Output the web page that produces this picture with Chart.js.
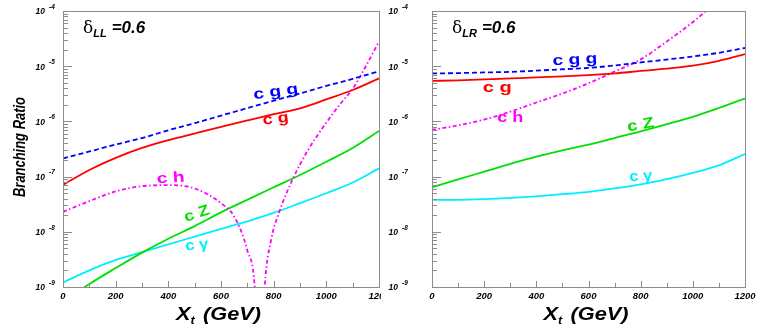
<!DOCTYPE html>
<html>
<head>
<meta charset="utf-8">
<script src="https://cdn.jsdelivr.net/npm/chart.js@4.4.1/dist/chart.umd.min.js"></script>
<style>
  body { margin: 0; background: #fff; }
  #wrap { position: relative; width: 763px; height: 327px; background: #fff; }
  .panel { position: absolute; top: 0; height: 327px; }
</style>
</head>
<body>
<div id="wrap">
  <div class="panel" style="left:0;width:381px"><canvas id="chartLL" width="381" height="327"></canvas></div>
  <div class="panel" style="left:381px;width:382px"><canvas id="chartLR" width="382" height="327"></canvas></div>
</div>
<script>
// X_t grid (GeV) shared by most curves
const xGrid = [0, 100, 200, 300, 400, 500, 600, 700, 800, 900, 1000, 1100, 1200];
const xTicks = [0, 200, 400, 600, 800, 1000, 1200];
const yDecades = [-9, -8, -7, -6, -5, -4];

// delta_LL = 0.6 panel
const llCgg = [2.14e-7, 2.85e-7, 3.8e-7, 5.0e-7, 6.9e-7, 9.3e-7, 1.27e-6, 1.74e-6, 2.37e-6, 3.2e-6, 4.4e-6, 5.9e-6, 8.1e-6];
const llCg = [7.1e-8, 1.32e-7, 2.19e-7, 3.31e-7, 4.57e-7, 6.03e-7, 7.94e-7, 1.04e-6, 1.35e-6, 1.72e-6, 2.5e-6, 3.7e-6, 6.0e-6];
const llChX = [0, 100, 200, 300, 400, 500, 600, 650, 700, 728, 747, 766, 790, 820, 870, 930, 1000, 1050, 1100, 1150, 1200];
const llCh = [2.3e-8, 3.6e-8, 5.4e-8, 6.7e-8, 7.0e-8, 6.1e-8, 3.3e-8, 1.9e-8, 4.6e-9, 1.0e-9, 1e-11, 1.0e-9, 7e-9, 2.2e-8, 8.5e-8, 3.0e-7, 9.5e-7, 2.0e-6, 3.9e-6, 1.0e-5, 2.8e-5];
const llCz = [5.4e-10, 1.13e-9, 2.2e-9, 4.2e-9, 7.5e-9, 1.27e-8, 2.25e-8, 3.8e-8, 6.4e-8, 1.07e-7, 1.86e-7, 3.3e-7, 6.7e-7];
const llCgam = [1.21e-9, 2.0e-9, 3.1e-9, 4.3e-9, 5.9e-9, 8.2e-9, 1.13e-8, 1.55e-8, 2.2e-8, 3.3e-8, 5.0e-8, 7.8e-8, 1.41e-7];

// delta_LR = 0.6 panel
const lrCgg = [7.4e-6, 7.5e-6, 7.7e-6, 7.9e-6, 8.3e-6, 8.8e-6, 9.3e-6, 1.03e-5, 1.17e-5, 1.32e-5, 1.5e-5, 1.75e-5, 2.14e-5];
const lrCg = [5.4e-6, 5.55e-6, 5.75e-6, 6.0e-6, 6.25e-6, 6.55e-6, 6.9e-6, 7.4e-6, 8.2e-6, 9.0e-6, 1.02e-5, 1.25e-5, 1.65e-5];
const lrCh = [7.0e-7, 8.5e-7, 1.08e-6, 1.5e-6, 2.2e-6, 3.2e-6, 4.9e-6, 8.0e-6, 1.33e-5, 2.8e-5, 6.3e-5, 1.6e-4, 4.0e-4];
const lrCz = [6.4e-8, 8.9e-8, 1.23e-7, 1.7e-7, 2.3e-7, 3.0e-7, 3.8e-7, 5.0e-7, 6.6e-7, 8.9e-7, 1.21e-6, 1.75e-6, 2.6e-6];
const lrCgam = [3.8e-8, 3.8e-8, 3.9e-8, 4.1e-8, 4.4e-8, 4.8e-8, 5.3e-8, 6.1e-8, 7.2e-8, 9.0e-8, 1.17e-7, 1.6e-7, 2.57e-7];

const COL = { cgg: '#0000ff', cg: '#ff0000', ch: '#ff00ff', cz: '#00e000', cgam: '#00eeff' };
const FRAME = '#8c8c8c';
const FONT = '"Liberation Sans", Arial, sans-serif';

function pts(xs, ys) {
    return xs.map((x, i) => ({ x: x, y: ys[i] }));
}

function line(label, xs, ys, color, dash) {
    return {
        label: label,
        data: pts(xs, ys),
        borderColor: color,
        borderWidth: 1.8,
        borderDash: dash || [],
        pointRadius: 0,
        fill: false,
        cubicInterpolationMode: 'monotone',
        clip: 0
    };
}

// draw a row of text pieces (different fonts / vertical offsets) starting at x
function drawPieces(ctx, pieces, x, y, color) {
    ctx.fillStyle = color;
    ctx.textBaseline = 'alphabetic';
    ctx.textAlign = 'left';
    let cx = x;
    pieces.forEach(p => {
        ctx.font = p.font;
        ctx.fillText(p.text, cx, y + (p.dy || 0));
        cx += ctx.measureText(p.text).width + (p.gap || 0);
    });
    return cx - x;
}

function piecesWidth(ctx, pieces) {
    let w = 0;
    pieces.forEach(p => { ctx.font = p.font; w += ctx.measureText(p.text).width + (p.gap || 0); });
    return w;
}

// text centred at (x,y), rotated, stretched/squeezed to a target width
function fitText(ctx, text, x, y, width, font, color, angle) {
    ctx.save();
    ctx.translate(x, y);
    ctx.rotate((angle || 0) * Math.PI / 180);
    ctx.font = font;
    const w = ctx.measureText(text).width;
    ctx.scale(width / w, 1);
    ctx.fillStyle = color;
    ctx.textAlign = 'center';
    ctx.textBaseline = 'middle';
    ctx.fillText(text, 0, 0);
    ctx.restore();
}

const framePlugin = {
    id: 'framePlugin',
    afterDraw(chart, args, opts) {
        const ctx = chart.ctx;
        const a = chart.chartArea;
        const xs = chart.scales.x, ys = chart.scales.y;
        ctx.save();

        // frame
        ctx.strokeStyle = FRAME;
        ctx.lineWidth = 1;
        ctx.strokeRect(Math.round(a.left) + 0.5, Math.round(a.top) + 0.5, Math.round(a.right - a.left), Math.round(a.bottom - a.top));

        // y ticks (inside, log)
        ctx.beginPath();
        yDecades.forEach(e => {
            const py = Math.round(ys.getPixelForValue(Math.pow(10, e))) + 0.5;
            ctx.moveTo(a.left, py); ctx.lineTo(a.left + 9, py);
            if (e < -4) {
                for (let k = 2; k <= 9; k++) {
                    const my = Math.round(ys.getPixelForValue(k * Math.pow(10, e))) + 0.5;
                    ctx.moveTo(a.left, my); ctx.lineTo(a.left + 5, my);
                }
            }
        });
        // x ticks (inside)
        for (let v = 0; v <= 1200; v += 100) {
            const px = Math.round(xs.getPixelForValue(v)) + 0.5;
            ctx.moveTo(px, a.bottom); ctx.lineTo(px, a.bottom - (v % 200 === 0 ? 6 : 4));
        }
        ctx.stroke();

        // y tick labels 10^n
        yDecades.forEach(e => {
            const py = ys.getPixelForValue(Math.pow(10, e));
            const xEnd = a.left - opts.yLabelGap;
            ctx.fillStyle = '#000';
            ctx.textBaseline = 'middle';
            ctx.textAlign = 'right';
            ctx.font = 'italic bold 8.5px ' + FONT;
            ctx.fillText('10', xEnd - 9, py + 1);
            ctx.textAlign = 'left';
            ctx.font = 'italic bold 6.5px ' + FONT;
            ctx.fillText('-' + Math.abs(e), xEnd - 5, py - 4);
        });

        // x tick labels
        ctx.font = 'italic bold 9.5px ' + FONT;
        ctx.textAlign = 'center';
        ctx.textBaseline = 'middle';
        ctx.fillStyle = '#000';
        xTicks.forEach(v => ctx.fillText(String(v), xs.getPixelForValue(v), a.bottom + 9));

        // x axis title X_t (GeV)
        const xt = [
            { text: 'X', font: 'italic bold 19px ' + FONT },
            { text: 't', font: 'italic bold 11px ' + FONT, dy: 4, gap: 2 },
            { text: ' (GeV)', font: 'italic bold 19px ' + FONT }
        ];
        const tw = piecesWidth(ctx, xt);
        const cxT = (a.left + a.right) / 2 - 3;
        ctx.save();
        ctx.translate(cxT - 42, 320);
        ctx.scale(85 / tw, 1);
        drawPieces(ctx, xt, 0, 0, '#000');
        ctx.restore();

        // y axis title
        if (opts.yTitle) {
            fitText(ctx, opts.yTitle, 20, 147, 100, 'italic bold 17px ' + FONT, '#000', -90);
        }

        // delta label
        const d = [
            { text: '\u03b4', font: '17px "DejaVu Serif", serif', gap: 0 },
            { text: opts.deltaSub, font: 'italic bold 11px ' + FONT, dy: 4, gap: 5 },
            { text: '=0.6', font: 'italic bold 17px ' + FONT }
        ];
        drawPieces(ctx, d, a.left + 20, 33, '#000');

        // curve labels
        opts.labels.forEach(l => {
            const px = xs.getPixelForValue(l.x);
            const py = ys.getPixelForValue(l.y);
            fitText(ctx, l.text, px, py, l.w, 'bold 15px ' + FONT, l.color, l.angle);
        });

        ctx.restore();
    }
};

function makeChart(id, datasets, pad, opts) {
    return new Chart(document.getElementById(id), {
        type: 'line',
        data: { datasets: datasets },
        options: {
            responsive: false,
            animation: false,
            layout: { padding: pad },
            plugins: { legend: { display: false }, tooltip: { enabled: false }, framePlugin: opts },
            scales: {
                x: { type: 'linear', min: 0, max: 1200, display: false },
                y: { type: 'logarithmic', min: 1e-9, max: 1e-4, display: false }
            }
        },
        plugins: [framePlugin]
    });
}

makeChart('chartLL', [
    line('c g g', xGrid, llCgg, COL.cgg, [5, 3]),
    line('c g', xGrid, llCg, COL.cg),
    line('c h', llChX, llCh, COL.ch, [4, 2.5, 1.5, 2.5]),
    line('c Z', xGrid, llCz, COL.cz),
    line('c \u03b3', xGrid, llCgam, COL.cgam)
], { left: 63, right: 2, top: 11, bottom: 40 }, {
    yLabelGap: 9,
    yTitle: 'Branching Ratio',
    deltaSub: 'LL',
    labels: [
        { text: 'c g g', x: 808, y: 3.4e-6, w: 45, color: COL.cgg, angle: -8 },
        { text: 'c g', x: 808, y: 1.1e-6, w: 26, color: COL.cg, angle: -7 },
        { text: 'c h', x: 409, y: 9.3e-8, w: 28, color: COL.ch, angle: -3 },
        { text: 'c Z', x: 508, y: 2.1e-8, w: 26, color: COL.cz, angle: -18 },
        { text: 'c \u03b3', x: 508, y: 5.7e-9, w: 23, color: COL.cgam, angle: -6 }
    ]
});

makeChart('chartLR', [
    line('c g g', xGrid, lrCgg, COL.cgg, [5, 3]),
    line('c g', xGrid, lrCg, COL.cg),
    line('c h', xGrid, lrCh, COL.ch, [4, 2.5, 1.5, 2.5]),
    line('c Z', xGrid, lrCz, COL.cz),
    line('c \u03b3', xGrid, lrCgam, COL.cgam)
], { left: 51, right: 18, top: 11, bottom: 40 }, {
    yLabelGap: 25,
    yTitle: null,
    deltaSub: 'LR',
    labels: [
        { text: 'c g g', x: 548, y: 1.3e-5, w: 45, color: COL.cgg, angle: -3 },
        { text: 'c g', x: 250, y: 4.0e-6, w: 29, color: COL.cg, angle: 0 },
        { text: 'c h', x: 300, y: 1.15e-6, w: 26, color: COL.ch, angle: 0 },
        { text: 'c Z', x: 800, y: 8.6e-7, w: 27, color: COL.cz, angle: -10 },
        { text: 'c \u03b3', x: 800, y: 1.0e-7, w: 23, color: COL.cgam, angle: -3 }
    ]
});
</script>
</body>
</html>
